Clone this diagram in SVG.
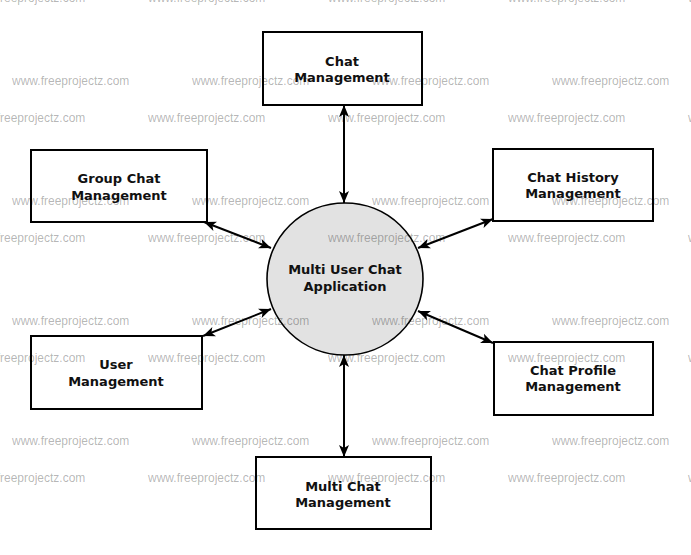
<svg xmlns="http://www.w3.org/2000/svg" width="691" height="555" viewBox="0 0 691 555">
<style>
.box{fill:#ffffff;stroke:#000000;stroke-width:2}
.proc{fill:#e2e2e2;stroke:#000000;stroke-width:1.6}
.lbl{font-family:"DejaVu Sans",Verdana,sans-serif;font-weight:bold;font-size:13px;fill:#111111;text-anchor:middle}
.edge{fill:none;stroke:#000000;stroke-width:2}
.wm{font-family:"Liberation Sans",Arial,sans-serif;font-size:12px;fill:#000000;fill-opacity:0.3}
</style>
<defs>
<marker id="ah" markerUnits="userSpaceOnUse" markerWidth="14" markerHeight="12" refX="12" refY="5" orient="auto-start-reverse" viewBox="0 0 14 10">
<path d="M0,0 L12,5 L0,10 L3,5 Z" fill="#000000"/>
</marker>
</defs>
<rect width="691" height="555" fill="#ffffff"/>
<g id="connectors">
<line class="edge" x1="344" y1="105" x2="344" y2="203" marker-start="url(#ah)" marker-end="url(#ah)"/>
<line class="edge" x1="204" y1="222" x2="271" y2="248" marker-start="url(#ah)" marker-end="url(#ah)"/>
<line class="edge" x1="493" y1="219" x2="418" y2="248" marker-start="url(#ah)" marker-end="url(#ah)"/>
<line class="edge" x1="203" y1="336" x2="271" y2="309" marker-start="url(#ah)" marker-end="url(#ah)"/>
<line class="edge" x1="418" y1="311" x2="493" y2="343" marker-start="url(#ah)" marker-end="url(#ah)"/>
<line class="edge" x1="344" y1="355" x2="344" y2="457" marker-start="url(#ah)" marker-end="url(#ah)"/>
</g>
<g id="app">
<ellipse class="proc" cx="345" cy="279" rx="78" ry="76"/>
<text class="lbl" x="345" y="274">Multi User Chat</text>
<text class="lbl" x="345" y="291">Application</text>
</g>
<g id="chat-management">
<rect class="box" x="263" y="32" width="159" height="73"/>
<text class="lbl" x="342" y="66">Chat</text>
<text class="lbl" x="342" y="82">Management</text>
</g>
<g id="group-chat-management">
<rect class="box" x="31" y="150" width="176" height="72"/>
<text class="lbl" x="119" y="183">Group Chat</text>
<text class="lbl" x="119" y="200">Management</text>
</g>
<g id="chat-history-management">
<rect class="box" x="493" y="149" width="160" height="72"/>
<text class="lbl" x="573" y="182">Chat History</text>
<text class="lbl" x="573" y="198">Management</text>
</g>
<g id="user-management">
<rect class="box" x="31" y="336" width="171" height="73"/>
<text class="lbl" x="116" y="369">User</text>
<text class="lbl" x="116" y="386">Management</text>
</g>
<g id="chat-profile-management">
<rect class="box" x="494" y="342" width="159" height="73"/>
<text class="lbl" x="573" y="375">Chat Profile</text>
<text class="lbl" x="573" y="391">Management</text>
</g>
<g id="multi-chat-management">
<rect class="box" x="256" y="457" width="175" height="72"/>
<text class="lbl" x="343" y="491">Multi Chat</text>
<text class="lbl" x="343" y="507">Management</text>
</g>
<g id="watermarks">
<text class="wm" x="-32" y="2">www.freeprojectz.com</text><text class="wm" x="148" y="2">www.freeprojectz.com</text><text class="wm" x="328" y="2">www.freeprojectz.com</text><text class="wm" x="508" y="2">www.freeprojectz.com</text><text class="wm" x="688" y="2">www.freeprojectz.com</text>
<text class="wm" x="12" y="85">www.freeprojectz.com</text><text class="wm" x="192" y="85">www.freeprojectz.com</text><text class="wm" x="372" y="85">www.freeprojectz.com</text><text class="wm" x="552" y="85">www.freeprojectz.com</text>
<text class="wm" x="-32" y="122">www.freeprojectz.com</text><text class="wm" x="148" y="122">www.freeprojectz.com</text><text class="wm" x="328" y="122">www.freeprojectz.com</text><text class="wm" x="508" y="122">www.freeprojectz.com</text><text class="wm" x="688" y="122">www.freeprojectz.com</text>
<text class="wm" x="12" y="205">www.freeprojectz.com</text><text class="wm" x="192" y="205">www.freeprojectz.com</text><text class="wm" x="372" y="205">www.freeprojectz.com</text><text class="wm" x="552" y="205">www.freeprojectz.com</text>
<text class="wm" x="-32" y="242">www.freeprojectz.com</text><text class="wm" x="148" y="242">www.freeprojectz.com</text><text class="wm" x="328" y="242">www.freeprojectz.com</text><text class="wm" x="508" y="242">www.freeprojectz.com</text><text class="wm" x="688" y="242">www.freeprojectz.com</text>
<text class="wm" x="12" y="325">www.freeprojectz.com</text><text class="wm" x="192" y="325">www.freeprojectz.com</text><text class="wm" x="372" y="325">www.freeprojectz.com</text><text class="wm" x="552" y="325">www.freeprojectz.com</text>
<text class="wm" x="-32" y="362">www.freeprojectz.com</text><text class="wm" x="148" y="362">www.freeprojectz.com</text><text class="wm" x="328" y="362">www.freeprojectz.com</text><text class="wm" x="508" y="362">www.freeprojectz.com</text><text class="wm" x="688" y="362">www.freeprojectz.com</text>
<text class="wm" x="12" y="445">www.freeprojectz.com</text><text class="wm" x="192" y="445">www.freeprojectz.com</text><text class="wm" x="372" y="445">www.freeprojectz.com</text><text class="wm" x="552" y="445">www.freeprojectz.com</text>
<text class="wm" x="-32" y="482">www.freeprojectz.com</text><text class="wm" x="148" y="482">www.freeprojectz.com</text><text class="wm" x="328" y="482">www.freeprojectz.com</text><text class="wm" x="508" y="482">www.freeprojectz.com</text><text class="wm" x="688" y="482">www.freeprojectz.com</text>
<text class="wm" x="12" y="565">www.freeprojectz.com</text><text class="wm" x="192" y="565">www.freeprojectz.com</text><text class="wm" x="372" y="565">www.freeprojectz.com</text><text class="wm" x="552" y="565">www.freeprojectz.com</text>
</g>
</svg>
